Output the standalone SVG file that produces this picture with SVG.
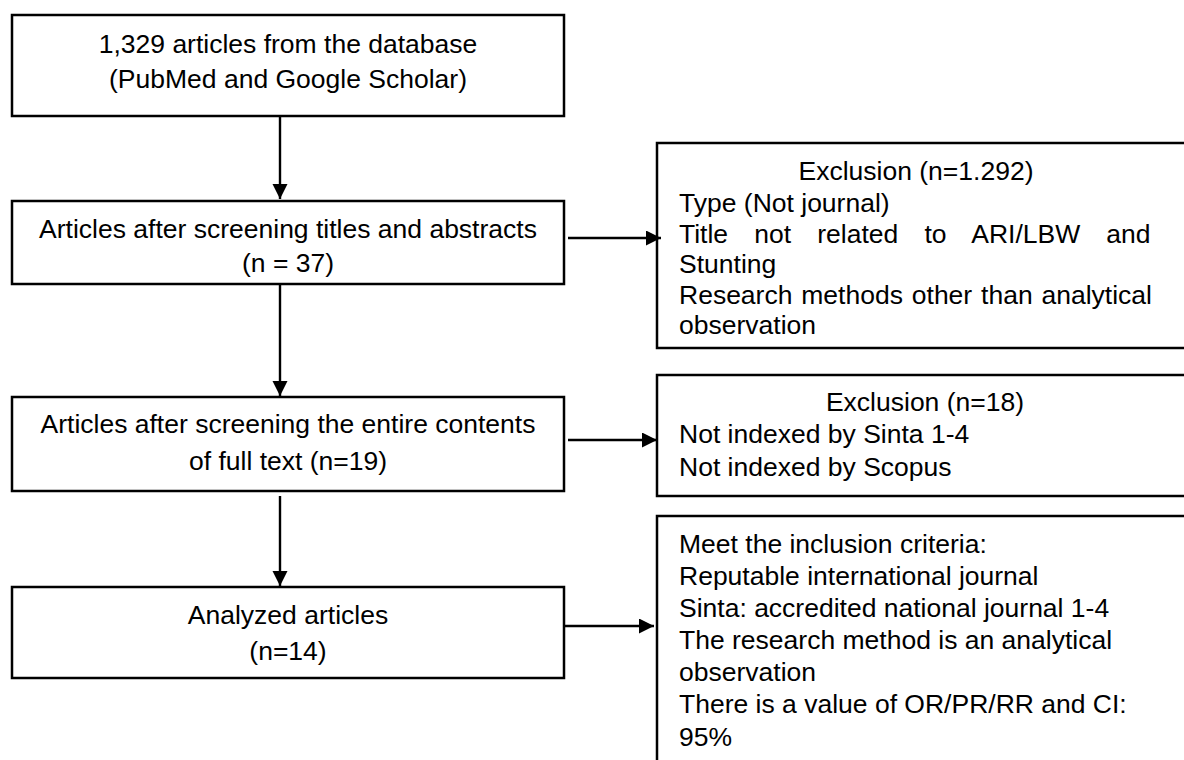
<svg xmlns="http://www.w3.org/2000/svg" width="1184" height="760" viewBox="0 0 1184 760">
<style>
.box{fill:#fff;stroke:#000;stroke-width:2.5}
.t{font-family:"Liberation Sans",Arial,sans-serif;font-size:26.5px;fill:#000}
.c{text-anchor:middle}
.conn{stroke:#000;stroke-width:2.4;fill:none}
</style>
<defs>
<marker id="ah" markerUnits="userSpaceOnUse" markerWidth="16" markerHeight="16" refX="15" refY="7.5" orient="auto">
<path d="M0,0 L15,7.5 L0,15 Z" fill="#000"/>
</marker>
</defs>
<rect width="1184" height="760" fill="#fff"/>
<g id="n1">
<rect class="box" x="12" y="15" width="552" height="101"/>
<text class="t c" x="288" y="53">1,329 articles from the database</text>
<text class="t c" x="288" y="88">(PubMed and Google Scholar)</text>
</g>
<g id="n2">
<rect class="box" x="12" y="201" width="552" height="83"/>
<text class="t c" x="288" y="238">Articles after screening titles and abstracts</text>
<text class="t c" x="288" y="272">(n = 37)</text>
</g>
<g id="n3">
<rect class="box" x="12" y="397" width="552" height="94"/>
<text class="t c" x="288" y="433">Articles after screening the entire contents</text>
<text class="t c" x="288" y="470">of full text (n=19)</text>
</g>
<g id="n4">
<rect class="box" x="12" y="587" width="552" height="91"/>
<text class="t c" x="288" y="624">Analyzed articles</text>
<text class="t c" x="288" y="660">(n=14)</text>
</g>
<g id="r1">
<rect class="box" x="657" y="143" width="540" height="205"/>
<text class="t c" x="916" y="180">Exclusion (n=1.292)</text>
<text class="t" x="679" y="212">Type (Not journal)</text>
<text class="t" x="679" y="243" word-spacing="18.8">Title not related to ARI/LBW and</text>
<text class="t" x="679" y="273">Stunting</text>
<text class="t" x="679" y="304" word-spacing="1.5">Research methods other than analytical</text>
<text class="t" x="679" y="334">observation</text>
</g>
<g id="r2">
<rect class="box" x="657" y="375" width="540" height="121"/>
<text class="t c" x="925" y="411">Exclusion (n=18)</text>
<text class="t" x="679" y="443">Not indexed by Sinta 1-4</text>
<text class="t" x="679" y="476">Not indexed by Scopus</text>
</g>
<g id="r3">
<rect class="box" x="657" y="516" width="540" height="260"/>
<text class="t" x="679" y="553">Meet the inclusion criteria:</text>
<text class="t" x="679" y="585">Reputable international journal</text>
<text class="t" x="679" y="617">Sinta: accredited national journal 1-4</text>
<text class="t" x="679" y="649">The research method is an analytical</text>
<text class="t" x="679" y="681">observation</text>
<text class="t" x="679" y="713">There is a value of OR/PR/RR and CI:</text>
<text class="t" x="679" y="746">95%</text>
</g>
<g id="connectors">
<line class="conn" x1="280" y1="116" x2="280" y2="199" marker-end="url(#ah)"/>
<line class="conn" x1="280" y1="284" x2="280" y2="396" marker-end="url(#ah)"/>
<line class="conn" x1="280" y1="496" x2="280" y2="586" marker-end="url(#ah)"/>
<line class="conn" x1="568" y1="238" x2="661" y2="238" marker-end="url(#ah)"/>
<line class="conn" x1="568" y1="440" x2="657" y2="440" marker-end="url(#ah)"/>
<line class="conn" x1="564" y1="626" x2="654" y2="626" marker-end="url(#ah)"/>
</g>
</svg>
